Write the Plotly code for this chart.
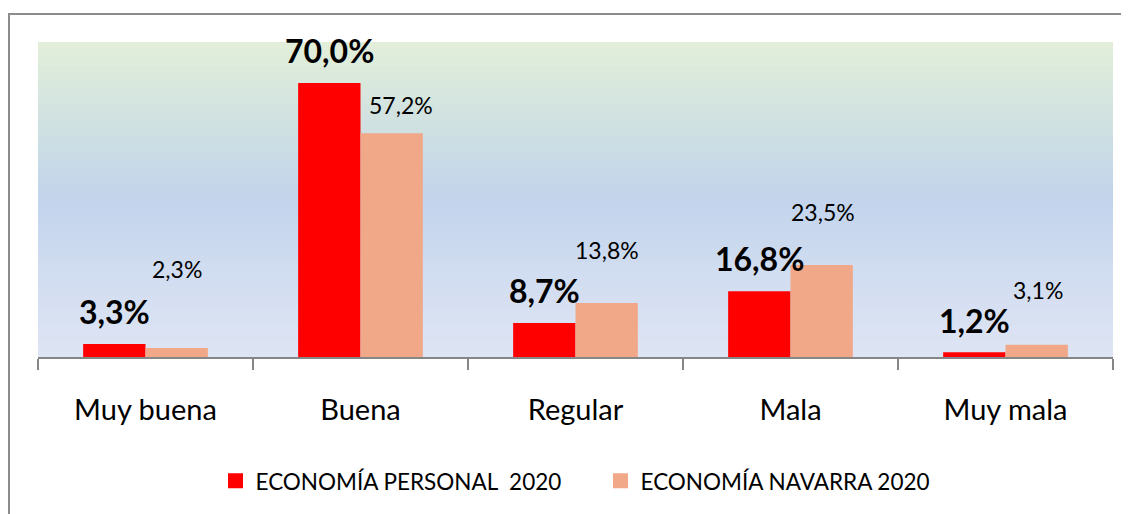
import plotly.graph_objects as go

categories = ["Muy buena", "Buena", "Regular", "Mala", "Muy mala"]
personal_2020 = [3.3, 70.0, 8.7, 16.8, 1.2]
navarra_2020 = [2.3, 57.2, 13.8, 23.5, 3.1]
series_names = ["ECONOMÍA PERSONAL\u00a0 2020", "ECONOMÍA NAVARRA 2020"]

# label placement (pixels) - style only
personal_label_yshift = [33, 33, 32, 33, 32]
navarra_label_yshift = [79, 28, 53, 53, 55]
navarra_label_xshift = [0, 9, 0, 1, 1]

RED = "#FF0000"
SALMON = "#F0A889"
FONT = "Lato, Carlito, Calibri, sans-serif"

W, H = 1121, 506
ML, MR, MT, MB = 30, 16, 34, 156
PW, PH = W - ML - MR, H - MT - MB

fig = go.Figure()
fig.add_trace(go.Bar(x=categories, y=personal_2020, name=series_names[0], showlegend=False,
                     marker=dict(color=RED, line=dict(width=0))))
fig.add_trace(go.Bar(x=categories, y=navarra_2020, name=series_names[1], showlegend=False,
                     marker=dict(color=SALMON, line=dict(width=0))))
# legend entries with larger square swatches
for name, c in zip(series_names, [RED, SALMON]):
    fig.add_trace(go.Scatter(x=[None], y=[None], mode="markers", name=name,
                             marker=dict(symbol="square", size=15, color=c)))

def fmt(v):
    return f"{v:.1f}".replace(".", ",") + "%"

bargap = 0.42
half = (1 - bargap) / 4  # offset from category center to each bar center
annotations = []
for i, v in enumerate(personal_2020):
    annotations.append(dict(x=i - half, y=v, xref="x", yref="y", text=f"<b>{fmt(v)}</b>",
                            showarrow=False, yshift=personal_label_yshift[i], yanchor="middle",
                            font=dict(family=FONT, size=32, color="#000")))
for i, v in enumerate(navarra_2020):
    annotations.append(dict(x=i + half, y=v, xref="x", yref="y", text=fmt(v),
                            showarrow=False, yshift=navarra_label_yshift[i],
                            xshift=navarra_label_xshift[i], yanchor="middle",
                            font=dict(family=FONT, size=23, color="#000")))

# gradient background for plot area (bands)
stops = [(0.0, (222, 229, 244)), (0.28, (208, 220, 240)), (0.5, (194, 211, 236)),
         (0.72, (206, 224, 226)), (1.0, (227, 239, 217))]
def col(t):
    for (t0, c0), (t1, c1) in zip(stops[:-1], stops[1:]):
        if t0 <= t <= t1:
            f = (t - t0) / (t1 - t0)
            return "rgb(%d,%d,%d)" % tuple(round(a + (b - a) * f) for a, b in zip(c0, c1))
    return "rgb(%d,%d,%d)" % stops[-1][1]

shapes = []
N = 40
for k in range(N):
    shapes.append(dict(type="rect", xref="paper", yref="paper", x0=0, x1=1,
                       y0=k / N, y1=min(1, (k + 1) / N + 0.006), fillcolor=col((k + 0.5) / N),
                       line=dict(width=0), layer="below"))
# outer chart border
shapes.append(dict(type="rect", xref="paper", yref="paper",
                   x0=(1 - ML) / PW, x1=1.06, y0=-0.55, y1=1 + (MT - 6) / PH,
                   line=dict(color="#8C8C8C", width=2), fillcolor="rgba(0,0,0,0)",
                   layer="above"))

fig.update_layout(
    width=W, height=H,
    margin=dict(l=ML, r=MR, t=MT, b=MB),
    paper_bgcolor="white", plot_bgcolor="rgba(0,0,0,0)",
    barmode="group", bargap=bargap, bargroupgap=0,
    font=dict(family=FONT, color="#000"),
    showlegend=True,
    legend=dict(orientation="h", x=0.5 + 25 / PW, xanchor="center", y=-0.39, yanchor="middle",
                font=dict(family=FONT, size=22.5, color="#000"),
                itemwidth=30, tracegroupgap=0, bgcolor="rgba(0,0,0,0)",
                entrywidth=340, entrywidthmode="pixels"),
    annotations=annotations,
    shapes=shapes,
    xaxis=dict(showline=True, linecolor="#868686", linewidth=2,
               ticks="outside", ticklen=11, tickcolor="#868686", tickwidth=2,
               tickson="boundaries", showgrid=False, ticklabelstandoff=26,
               tickfont=dict(family=FONT, size=29, color="#000")),
    yaxis=dict(range=[0, 80.5], showticklabels=False, showgrid=False,
               zeroline=False, showline=False, ticks=""),
)

fig.write_html("out.html")
